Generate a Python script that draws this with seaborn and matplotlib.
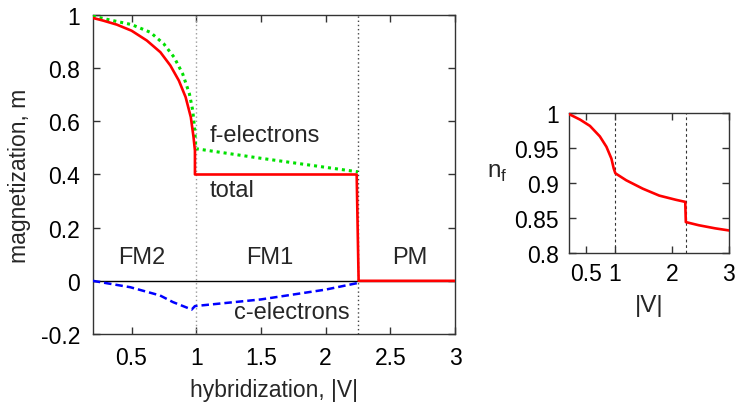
import matplotlib
matplotlib.use("Agg")
import matplotlib.pyplot as plt
import seaborn as sns

# ---- data ----
V_total = [0.2, 0.28, 0.385, 0.5, 0.618, 0.723, 0.80, 0.866, 0.918, 0.958, 0.979, 0.99, 0.99, 2.24, 2.255, 3.0]
m_total = [0.989, 0.979, 0.964, 0.941, 0.904, 0.860, 0.810, 0.753, 0.691, 0.616, 0.541, 0.49, 0.40, 0.40, 0.0, 0.0]

V_f = [0.2, 0.336, 0.5, 0.645, 0.75, 0.829, 0.895, 0.947, 0.973, 0.99, 0.997, 1.5, 2.0, 2.25]
m_f = [0.996, 0.981, 0.964, 0.935, 0.891, 0.841, 0.779, 0.704, 0.641, 0.56, 0.497, 0.461, 0.427, 0.41]

V_c = [0.2, 0.49, 0.72, 0.82, 0.965, 0.99, 1.5, 2.0, 2.25]
m_c = [0.0, -0.024, -0.055, -0.08, -0.108, -0.095, -0.070, -0.033, -0.008]

V_nf = [0.2, 0.395, 0.567, 0.74, 0.856, 0.943, 0.983, 1.012, 1.202, 1.49, 1.78, 2.07, 2.235, 2.245, 2.47, 2.76, 3.0]
nf = [0.999, 0.991, 0.982, 0.967, 0.952, 0.935, 0.921, 0.914, 0.904, 0.892, 0.882, 0.876, 0.873, 0.844, 0.8395, 0.835, 0.832]

phase_V = [1.0, 2.25]
region_labels = ["FM2", "FM1", "PM"]
region_x = [0.58, 1.57, 2.65]

main_xticks = [0.5, 1, 1.5, 2, 2.5, 3]
main_xticklabels = ["0.5", "1", "1.5", "2", "2.5", "3"]
main_yticks = [-0.2, 0, 0.2, 0.4, 0.6, 0.8, 1.0]
main_yticklabels = ["-0.2", "0", "0.2", "0.4", "0.6", "0.8", "1"]
ins_xticks = [0.5, 1, 2, 3]
ins_xticklabels = ["0.5", "1", "2", "3"]
ins_yticks = [0.8, 0.85, 0.9, 0.95, 1.0]
ins_yticklabels = ["0.8", "0.85", "0.9", "0.95", "1"]

# ---- style ----
sns.set_style("ticks")
plt.rcParams["font.family"] = ["Liberation Sans", "DejaVu Sans"]
plt.rcParams.update({
    "xtick.direction": "in", "ytick.direction": "in",
    "xtick.top": True, "ytick.right": True,
    "xtick.major.size": 5, "ytick.major.size": 5,
    "xtick.major.width": 1.0, "ytick.major.width": 1.0,
    "axes.edgecolor": "#333333", "axes.linewidth": 1.0,
    "xtick.color": "#333333", "ytick.color": "#333333",
    "xtick.labelcolor": "black", "ytick.labelcolor": "black",
})

fs = 16.5
fst = 17
fig = plt.figure(figsize=(7.37, 4.06), dpi=100)
ax = fig.add_axes([0.1258, 0.1749, 0.4916, 0.7857])
ax2 = fig.add_axes([0.772, 0.375, 0.2171, 0.3433])

# main panel
ax.axhline(0, color="black", lw=1.0, zorder=1)
ax.axvline(phase_V[0], color="#999999", lw=1.0, ls=(0, (1, 2)), zorder=1)
ax.axvline(phase_V[1], color="#444444", lw=1.0, ls=(0, (1, 2)), zorder=1)

sns.lineplot(x=V_f, y=m_f, ax=ax, estimator=None, sort=False, color="#00e000",
             lw=2.2, linestyle=(0, (1, 1.3)), zorder=3)
sns.lineplot(x=V_c, y=m_c, ax=ax, estimator=None, sort=False, color="#0000ff",
             lw=1.8, linestyle=(0, (3, 1.6)), zorder=3)
sns.lineplot(x=V_total, y=m_total, ax=ax, estimator=None, sort=False, color="#ff0000",
             lw=1.9, zorder=4)

ax.set_xlim(0.2, 3.0)
ax.set_ylim(-0.2, 1.0)
ax.set_xticks(main_xticks)
ax.set_xticklabels(main_xticklabels)
ax.set_yticks(main_yticks)
ax.set_yticklabels(main_yticklabels)
ax.tick_params(labelsize=fs, pad=9)
ax.set_xlabel("hybridization, |V|", fontsize=fs, labelpad=6)
ax.set_ylabel("magnetization, m", fontsize=fs, labelpad=7)

ax.text(1.105, 0.548, "f-electrons", fontsize=fst, ha="left", va="center")
ax.text(1.105, 0.34, "total", fontsize=fst, ha="left", va="center")
ax.text(1.74, -0.118, "c-electrons", fontsize=fst, ha="center", va="center")
for lab, xv in zip(region_labels, region_x):
    ax.text(xv, 0.09, lab, fontsize=fst, ha="center", va="center")

# inset panel
for v in phase_V:
    ax2.axvline(v, color="#333333", lw=0.8, ls=(0, (2.5, 2.5)), zorder=1)
sns.lineplot(x=V_nf, y=nf, ax=ax2, estimator=None, sort=False, color="#ff0000",
             lw=1.9, zorder=3)
ax2.set_xlim(0.2, 3.0)
ax2.set_ylim(0.8, 1.0)
ax2.set_xticks(ins_xticks)
ax2.set_xticklabels(ins_xticklabels)
ax2.set_yticks(ins_yticks)
ax2.set_yticklabels(ins_yticklabels)
ax2.tick_params(labelsize=fs, pad=7)
ax2.set_xlabel("|V|", fontsize=fs + 1, labelpad=6)
ax2.set_ylabel(r"n$_\mathregular{f}$", fontsize=fs + 1, rotation=0)
ax2.yaxis.set_label_coords(-0.45, 0.5)

fig.savefig("out.png", dpi=100)
